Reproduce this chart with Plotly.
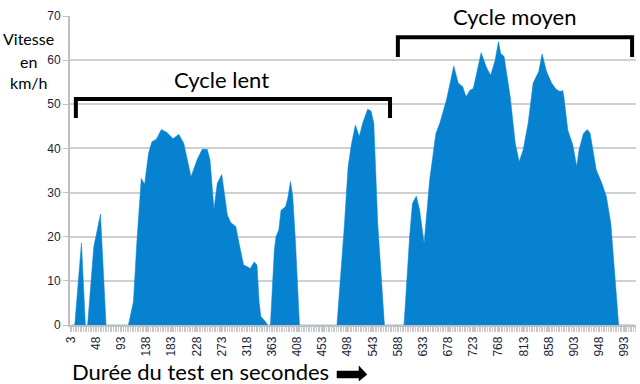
import plotly.graph_objects as go

# Time (s) and speed (km/h)
time_s = [3, 10, 22, 29, 33, 44, 56, 66, 106, 115, 121, 129, 135, 142, 148, 156, 165, 175,
          186, 196, 205, 218, 229, 238, 247, 252, 259, 265, 273, 283, 289, 298, 304, 312,
          319, 324, 331, 336, 340, 343, 351, 355, 360, 367, 370, 375, 379, 387, 391, 396,
          400, 405, 412, 479, 492, 499, 505, 512, 519, 525, 534, 540, 545, 552, 564, 599,
          609, 614, 621, 627, 635, 645, 656, 663, 675, 688, 696, 704, 710, 717, 723, 729,
          737, 747, 754, 762, 768, 772, 778, 789, 798, 805, 812, 821, 830, 840, 846, 854,
          863, 871, 878, 883, 885, 892, 901, 908, 912, 920, 927, 932, 943, 953, 961, 969,
          977, 983, 1011]
speed_kmh = [0, 0, 18.6, 0, 0, 17.7, 25.1, 0, 0, 5.3, 18.6, 33.2, 31.9, 38.9, 41.5, 42.1, 44.3, 43.6,
             42.2, 43.2, 41.2, 33.6, 37.5, 39.8, 39.8, 37.4, 26.2, 32.1, 34.1, 24.9, 23.2, 22.3, 18.5, 13.6,
             13.2, 12.8, 14.3, 13.6, 4.9, 1.9, 0.8, 0, 0, 17, 20, 21.5, 26, 26.8, 28.7, 32.5,
             29.1, 18.5, 0, 0, 22, 35.9, 41, 45.3, 42.7, 45.7, 48.9, 48.5, 45.7, 23, 0, 0,
             20, 27.5, 29.2, 26, 18.5, 33, 43.4, 45.7, 51, 58.7, 54.8, 54, 51.7, 53.2, 53.6, 57,
             61.7, 58.2, 56.6, 60, 64.2, 61.5, 60.8, 51.7, 41.2, 37, 39.6, 45.7, 54.8, 57.4, 61.4, 57.4,
             54.8, 53.4, 52.9, 53.1, 51.7, 44.2, 40.8, 35.9, 39.6, 43.4, 44.3, 43.4, 35.1, 32.1, 29.1, 23,
             9.4, 0, 0]

x_tickvals = list(range(3, 994, 45))
x_ticktext = [str(v) for v in x_tickvals]
y_tickvals = [0, 10, 20, 30, 40, 50, 60, 70]

cycle_labels = ["Cycle lent", "Cycle moyen"]
# bracket extents (s) and heights (km/h)
bracket_x = [(12, 574), (588, 1007)]
bracket_top = [51.2, 65.2]
bracket_bottom = [46.9, 60.7]
label_pos = [(273, 55.7), (797, 69.8)]

# plot-area geometry in pixels
L, R, T, B = 70, 636, 16, 325
W, H = R - L, B - T


def px(x):
    return (x - L) / W


def py(y):
    return (B - y) / H


fig = go.Figure()
fig.add_trace(go.Scatter(
    x=time_s, y=speed_kmh, mode="lines", fill="tozeroy",
    line=dict(color="#0782D0", width=0.5), fillcolor="#0782D0",
    showlegend=False, hoverinfo="x+y"))

for (x0, x1), top, bot in zip(bracket_x, bracket_top, bracket_bottom):
    fig.add_shape(type="path", xref="x", yref="y",
                  path=f"M {x0},{bot} L {x0},{top} L {x1},{top} L {x1},{bot}",
                  line=dict(color="black", width=4))

for txt, (lx, ly) in zip(cycle_labels, label_pos):
    fig.add_annotation(x=lx, y=ly, xref="x", yref="y", text=txt, showarrow=False,
                       font=dict(family="Lato, Open Sans, sans-serif", size=22, color="black"))

# y-axis title lines
for txt, yy in [("Vitesse", 38), ("en", 61), ("km/h", 82)]:
    fig.add_annotation(x=px(28), y=py(yy), xref="paper", yref="paper", text=txt,
                       showarrow=False, xanchor="center", yanchor="middle",
                       font=dict(family="Lato, Open Sans, sans-serif", size=16, color="black"))

fig.add_annotation(x=px(70), y=py(371.5), xref="paper", yref="paper", xanchor="left",
                   yanchor="middle", text="Durée du test en secondes", showarrow=False,
                   font=dict(family="Lato, Open Sans, sans-serif", size=22, color="black"))

# black arrow after the axis title
arrow_pts = [(337, 371), (359, 371), (359, 366), (367, 374.5), (359, 381), (359, 378), (337, 378)]
arrow_path = "M " + " L ".join(f"{px(a):.4f},{py(b):.4f}" for a, b in arrow_pts) + " Z"
fig.add_shape(type="path", xref="paper", yref="paper", path=arrow_path,
              fillcolor="black", line=dict(color="black", width=0.5))

fig.update_layout(
    width=640, height=384,
    margin=dict(l=L, r=640 - R, t=T, b=384 - B, pad=0),
    plot_bgcolor="white", paper_bgcolor="white",
    font=dict(family="Liberation Sans, Arial, sans-serif", size=12, color="#1a1f3c"),
)

fig.update_xaxes(
    automargin=False,
    range=[1.5, 1014], tickvals=x_tickvals, ticktext=x_ticktext, tickangle=-90,
    showgrid=False, zeroline=False, showline=True, linecolor="#bfbfbf", linewidth=1.5,
    ticks="outside", ticklen=5, tickcolor="#c4c4c4",
    minor=dict(ticks="outside", tick0=1.5, dtick=3, ticklen=5, tickcolor="#c8c8c8", showgrid=False),
    tickfont=dict(size=12, color="#1a1f3c"))
fig.update_yaxes(
    automargin=False,
    range=[0, 70], tickvals=y_tickvals, showgrid=True, gridcolor="#d0d0d0", gridwidth=1.5,
    zeroline=False, showline=True, linecolor="#bfbfbf", linewidth=2,
    ticks="outside", ticklen=5, tickcolor="#c4c4c4",
    tickfont=dict(size=12, color="#1a1f3c"))

fig.write_html("out.html", config={"displayModeBar": False},
               post_script="document.body.style.margin='0';")
